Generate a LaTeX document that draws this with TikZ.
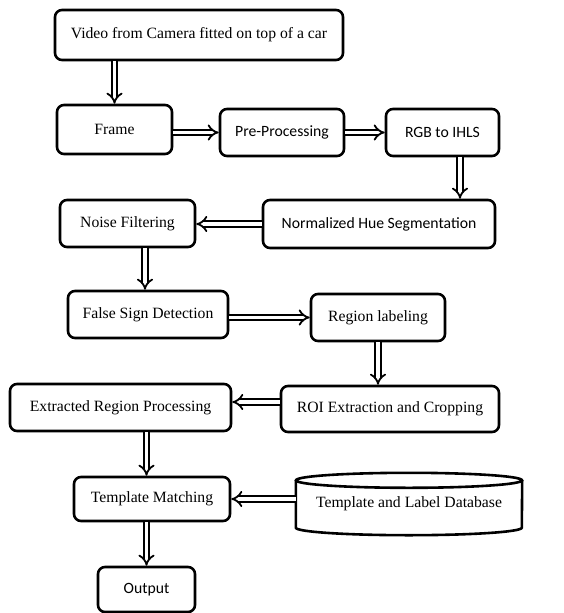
\documentclass[tikz,border=0pt]{standalone}
\usepackage{fontspec}
\setmainfont{Liberation Serif}
\newfontfamily\calibri{Carlito}
\usetikzlibrary{arrows.meta}

\tikzset{
  stage/.style={draw, line width=2.6pt, rounded corners=7pt, inner sep=0pt,
                font=\fontsize{15.7}{18}\selectfont},
  dbl/.style={double, double distance=3.6pt, line width=1.8pt,
              -{Implies[length=7pt, width=15pt]}}
}

\begin{document}
\begin{tikzpicture}[x=1pt, y=-1pt]
      \useasboundingbox (0,0) rectangle (564,613);

      \begin{scope}[every node/.append style={stage}]
        \node (vid)   at (199,35)    [minimum width=288pt, minimum height=50pt] {Video from Camera fitted on top of a car};
        \node (frame) at (114.5,129.5) [minimum width=115pt, minimum height=49pt] {Frame};
        \node (pre)   at (282,132.5) [minimum width=124pt, minimum height=47pt] {\calibri Pre-Processing};
        \node (rgb)   at (442.5,132.5) [minimum width=113pt, minimum height=47pt] {\calibri RGB to IHLS};
        \node (noise) at (127.5,223.5) [minimum width=135pt, minimum height=47pt] {Noise Filtering};
        \node (hue)   at (379,224)   [minimum width=232pt, minimum height=48pt] {\calibri Normalized Hue Segmentation};
        \node (fsd)   at (148,314.5) [minimum width=160pt, minimum height=47pt] {False Sign Detection};
        \node (reg)   at (378,317.5) [minimum width=134pt, minimum height=47pt] {Region labeling};
        \node (erp)   at (120.5,407.5) [minimum width=221pt, minimum height=47pt] {Extracted Region Processing};
        \node (roi)   at (390,409)   [minimum width=218pt, minimum height=46pt] {ROI Extraction and Cropping};
        \node (tm)    at (152,499)   [minimum width=156pt, minimum height=44pt] {Template Matching};
        \node (out)   at (146.5,589.5) [minimum width=97pt, minimum height=45pt] {\calibri Output};
      \end{scope}

      % database cylinder
      \node (db) at (409,504) [inner sep=0pt, minimum width=226pt, minimum height=62pt,
                               font=\fontsize{15.7}{18}\selectfont] {\raisebox{-3pt}{Template and Label Database}};
      \draw[line width=2.6pt]
        ([yshift=-7.5pt]db.north west) -- ([yshift=7.5pt]db.south west)
        arc[start angle=180, end angle=360, x radius=113pt, y radius=7.5pt]
        -- ([yshift=-7.5pt]db.north east);
      \draw[line width=2.6pt] ([yshift=-7.5pt]db.north) ellipse[x radius=113pt, y radius=7.5pt];

      % flow
      \draw[dbl] (vid.south -| frame) -- (frame.north);
      \draw[dbl] (frame.east |- pre) -- (pre.west);
      \draw[dbl] (pre.east) -- (rgb.west);
      \draw[dbl] ([xshift=17.5pt]rgb.south) -- ([xshift=17.5pt]rgb.south |- hue.north);
      \draw[dbl] (hue.west) -- (hue.west -| noise.east);
      \draw[dbl] ([xshift=-3pt]noise.south -| fsd) -- ([xshift=-3pt]fsd.north);
      \draw[dbl] (fsd.east |- reg) -- (reg.west);
      \draw[dbl] (reg.south) -- (roi.north -| reg);
      \draw[dbl] ([yshift=7pt]roi.west) -- ([yshift=7pt]roi.west -| erp.east);
      \draw[dbl] (erp.south -| out) -- (tm.north -| out);
      \draw[dbl] (db.west |- tm) -- (tm.east);
      \draw[dbl] (tm.south -| out) -- (out.north);

\end{tikzpicture}
\end{document}
